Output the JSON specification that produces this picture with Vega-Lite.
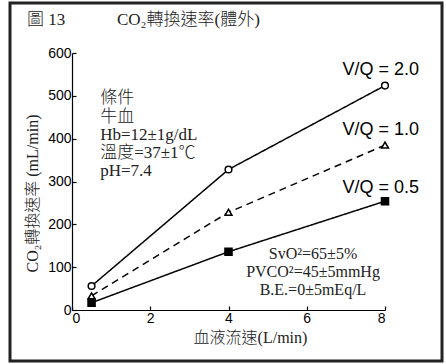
{
  "$schema": "https://vega.github.io/schema/vega-lite/v6.json",
  "width": 432,
  "height": 358,
  "autosize": {"type": "none"},
  "padding": {"left": 10, "top": 3, "right": 4, "bottom": 3},
  "background": "white",
  "config": {
    "view": {"stroke": "#222", "strokeWidth": 3},
    "axis": {
      "grid": false,
      "domainColor": "black",
      "domainWidth": 1.2,
      "tickColor": "black",
      "tickWidth": 1.2,
      "labelColor": "black",
      "titleColor": "#222",
      "labelFont": "Liberation Sans",
      "labelFontSize": 14,
      "titleFont": "Liberation Serif, Noto Sans CJK TC",
      "titleFontSize": 16,
      "titleFontWeight": 300
    }
  },
  "layer": [
    {
      "data": {"values": [
        {"vq": "2.0", "flow": 0.5, "rate": 56},
        {"vq": "2.0", "flow": 4, "rate": 328},
        {"vq": "2.0", "flow": 8, "rate": 524},
        {"vq": "1.0", "flow": 0.5, "rate": 33},
        {"vq": "1.0", "flow": 4, "rate": 228},
        {"vq": "1.0", "flow": 8, "rate": 385},
        {"vq": "0.5", "flow": 0.5, "rate": 17},
        {"vq": "0.5", "flow": 4, "rate": 136},
        {"vq": "0.5", "flow": 8, "rate": 254}
      ]},
      "layer": [
        {
          "mark": {"type": "line", "color": "black", "strokeWidth": 1.5},
          "encoding": {
            "x": {"field": "flow", "type": "quantitative",
              "scale": {"domain": [0, 8], "range": [62, 375], "nice": false, "zero": false},
              "axis": {"values": [0, 2, 4, 6, 8], "offset": -51, "tickSize": -4, "labelPadding": 5,
                "title": "血液流速(L/min)", "titlePadding": 4, "titleX": 240}},
            "y": {"field": "rate", "type": "quantitative",
              "scale": {"domain": [0, 600], "range": [307, 50], "nice": false, "zero": false},
              "axis": {"values": [0, 100, 200, 300, 400, 500, 600], "offset": -62, "tickSize": -4, "labelPadding": 5,
                "title": "CO₂轉換速率 (mL/min)", "titlePadding": 7, "titleY": 190}},
            "detail": {"field": "vq"},
            "strokeDash": {"field": "vq", "type": "nominal",
              "scale": {"domain": ["0.5", "1.0", "2.0"], "range": [[1, 0], [7, 5], [1, 0]]}, "legend": null}
          }
        },
        {
          "mark": {"type": "point", "filled": true, "stroke": "black", "strokeWidth": 1.5, "opacity": 1},
          "encoding": {
            "x": {"field": "flow", "type": "quantitative"},
            "y": {"field": "rate", "type": "quantitative"},
            "shape": {"field": "vq", "type": "nominal",
              "scale": {"domain": ["0.5", "1.0", "2.0"], "range": ["square", "triangle-up", "circle"]}, "legend": null},
            "fill": {"field": "vq", "type": "nominal",
              "scale": {"domain": ["0.5", "1.0", "2.0"], "range": ["black", "white", "white"]}, "legend": null},
            "size": {"field": "vq", "type": "nominal",
              "scale": {"domain": ["0.5", "1.0", "2.0"], "range": [50, 45, 85]}, "legend": null}
          }
        }
      ]
    },
    {
      "data": {"values": [
        {"t": "圖 13", "x": -1.15, "y": 665},
        {"t": "CO₂轉換速率(體外)", "x": 1.15, "y": 665}
      ]},
      "mark": {"type": "text", "align": "left", "baseline": "alphabetic", "font": "Liberation Serif, Noto Sans CJK TC", "fontSize": 17, "fontWeight": 300, "color": "#222"},
      "encoding": {
        "x": {"field": "x", "type": "quantitative"},
        "y": {"field": "y", "type": "quantitative"},
        "text": {"field": "t"}
      }
    },
    {
      "data": {"values": [
        {"t": "條件", "x": 0.72, "y": 483},
        {"t": "牛血", "x": 0.72, "y": 439},
        {"t": "Hb=12±1g/dL", "x": 0.72, "y": 397},
        {"t": "溫度=37±1℃", "x": 0.72, "y": 356},
        {"t": "pH=7.4", "x": 0.72, "y": 314}
      ]},
      "mark": {"type": "text", "align": "left", "baseline": "alphabetic", "font": "Liberation Serif, Noto Sans CJK TC", "fontSize": 17, "fontWeight": 300, "color": "#222"},
      "encoding": {
        "x": {"field": "x", "type": "quantitative"},
        "y": {"field": "y", "type": "quantitative"},
        "text": {"field": "t"}
      }
    },
    {
      "data": {"values": [
        {"t": "V/Q = 2.0", "x": 8.87, "y": 549},
        {"t": "V/Q = 1.0", "x": 8.87, "y": 409},
        {"t": "V/Q = 0.5", "x": 8.87, "y": 273}
      ]},
      "mark": {"type": "text", "align": "right", "baseline": "alphabetic", "font": "Liberation Sans", "fontSize": 18, "color": "black"},
      "encoding": {
        "x": {"field": "x", "type": "quantitative"},
        "y": {"field": "y", "type": "quantitative"},
        "text": {"field": "t"}
      }
    },
    {
      "data": {"values": [
        {"t": "SvO²=65±5%", "x": 6.16, "y": 119},
        {"t": "PVCO²=45±5mmHg", "x": 6.16, "y": 77},
        {"t": "B.E.=0±5mEq/L", "x": 6.16, "y": 35}
      ]},
      "mark": {"type": "text", "align": "center", "baseline": "alphabetic", "font": "Liberation Serif", "fontSize": 16, "color": "#222"},
      "encoding": {
        "x": {"field": "x", "type": "quantitative"},
        "y": {"field": "y", "type": "quantitative"},
        "text": {"field": "t"}
      }
    }
  ]
}
